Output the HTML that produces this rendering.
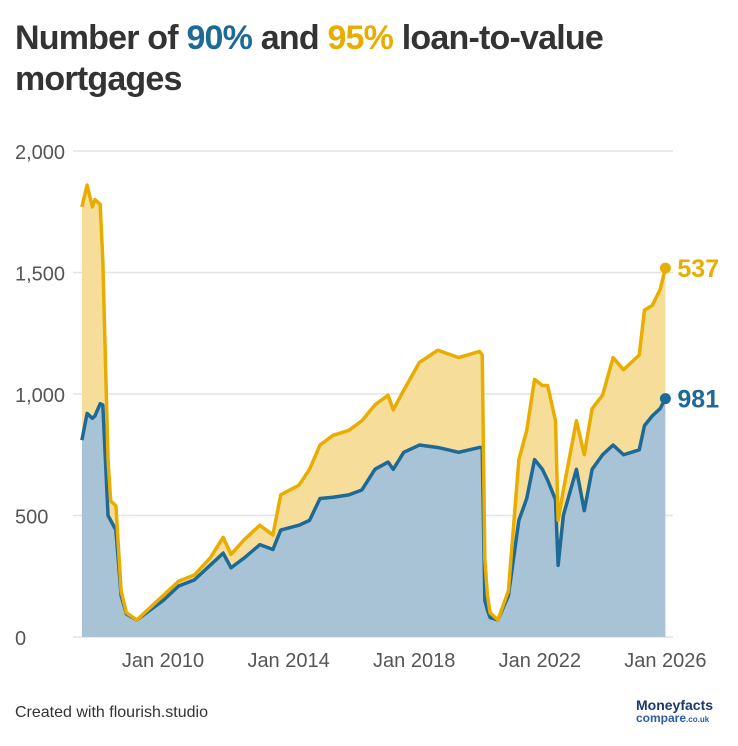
<!DOCTYPE html>
<html><head><meta charset="utf-8"><style>
body{margin:0;background:#fff;width:738px;height:746px;overflow:hidden;font-family:"Liberation Sans",sans-serif}
#title{position:absolute;left:15px;top:18px;font-size:34px;font-weight:bold;color:#333;line-height:41px;letter-spacing:-0.8px;width:720px}
.b{color:#1d6a96}.y{color:#e8ad00}
#foot{position:absolute;left:15px;top:704px;font-size:16px;color:#333}
#logo{position:absolute;left:636px;top:699px;font-weight:bold;color:#1a3a6b;line-height:13px}
svg{position:absolute;left:0;top:0}
</style></head><body>
<div id="title">Number of <span class="b">90%</span> and <span class="y">95%</span> loan-to-value mortgages</div>
<svg id="chart" width="738" height="746"></svg>
<div id="foot">Created with flourish.studio</div>
<div id="logo"><div style="font-size:14px">Moneyfacts</div><div style="font-size:12px;color:#2a5da8">compare<span style="font-size:8px">.co.uk</span></div></div>
<script>
const dates=["2007-06","2007-08","2007-10","2007-11","2008-01","2008-02","2008-04","2008-05","2008-07","2008-09","2008-11","2009-03","2009-08","2010-01","2010-07","2011-01","2011-07","2011-12","2012-03","2012-08","2013-02","2013-07","2013-10","2014-05","2014-09","2015-01","2015-06","2015-12","2016-05","2016-10","2017-03","2017-05","2017-09","2018-03","2018-10","2019-06","2020-02","2020-03","2020-04","2020-05","2020-06","2020-09","2021-01","2021-05","2021-08","2021-11","2022-02","2022-04","2022-07","2022-08","2022-10","2023-03","2023-06","2023-09","2024-01","2024-05","2024-09","2025-03","2025-05","2025-08","2025-11","2026-01"];
const ltv90=[810,920,900,910,960,955,500,480,440,170,95,70,110,150,210,235,295,345,285,325,380,360,440,460,480,570,575,585,605,690,720,690,760,790,780,760,780,780,150,110,80,70,170,480,570,730,690,645,565,295,500,690,520,690,750,790,750,770,870,910,940,981];
const ltv95=[960,940,870,890,820,595,230,80,100,20,5,0,10,20,20,20,30,65,55,75,80,60,145,165,210,220,255,265,285,265,275,245,255,340,400,390,395,380,170,60,20,0,20,250,280,330,345,390,325,185,105,200,230,250,245,360,350,390,475,455,490,537];
const yTicks=[0,500,1000,1500,2000];
const xTicks=[2010,2014,2018,2022,2026];
const NS="http://www.w3.org/2000/svg",svg=document.getElementById('chart');
const yr=d=>{const [a,b]=d.split('-').map(Number);return a+(b-1)/12;};
const X=t=>163+(t-2010)*31.4, Y=v=>637-v*0.243;
function mk(tag,at){const e=document.createElementNS(NS,tag);for(const k in at)e.setAttribute(k,at[k]);svg.appendChild(e);return e;}
yTicks.forEach(v=>{
 const l=mk('line',{x1:73,x2:673,y1:Y(v),y2:Y(v),stroke:'#e4e4e4','stroke-width':1.5});
 
 
 const t=mk('text',{x:15,y:Y(v)+8,'font-size':20,fill:'#555'});t.textContent=v.toLocaleString('en-US');
 
 
});
xTicks.forEach(v=>{
 const t=mk('text',{x:X(v),y:667,'font-size':20,fill:'#555','text-anchor':'middle'});t.textContent='Jan '+v;
 
 
});
const xs=dates.map(d=>X(yr(d)));
const totals=ltv90.map((v,i)=>v+ltv95[i]);
const pts=a=>a.map((v,i)=>xs[i]+','+Y(v)).join(' ');
const base=xs[0]+','+Y(0);const baseEnd=xs[xs.length-1]+','+Y(0);
const a1=mk('polygon',{points:pts(totals)+' '+ltv90.map((v,i)=>[xs[i],Y(v)]).reverse().map(p=>p.join(',')).join(' '),fill:'#f6dd9a'});


const a2=mk('polygon',{points:base+' '+pts(ltv90)+' '+baseEnd,fill:'#a8c3d5'});


const l1=mk('polyline',{points:pts(ltv90),fill:'none',stroke:'#1d6a96','stroke-width':3.5,'stroke-linejoin':'round'});


const l2=mk('polyline',{points:pts(totals),fill:'none',stroke:'#e8ad00','stroke-width':3.5,'stroke-linejoin':'round'});


const n=xs.length-1;
const c1=mk('circle',{cx:xs[n],cy:Y(ltv90[n]),r:5.5,fill:'#1d6a96'});


const c2=mk('circle',{cx:xs[n],cy:Y(totals[n]),r:5.5,fill:'#e8ad00'});


const t1=mk('text',{x:xs[n]+12,y:Y(ltv90[n])+9,'font-size':25,'font-weight':'bold',fill:'#1d6a96'});t1.textContent=ltv90[n];


const t2=mk('text',{x:xs[n]+12,y:Y(totals[n])+9,'font-size':25,'font-weight':'bold',fill:'#e8ad00'});t2.textContent=ltv95[n];


</script>
</body></html>
